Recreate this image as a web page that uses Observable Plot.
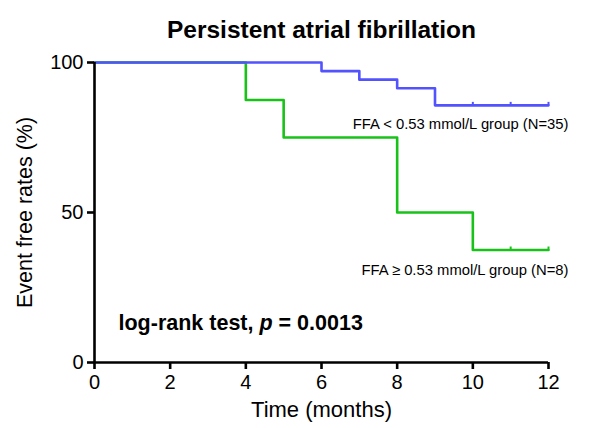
<!DOCTYPE html>
<html>
<head>
<meta charset="utf-8">
<script src="https://cdn.jsdelivr.net/npm/d3@7"></script>
<script src="https://cdn.jsdelivr.net/npm/@observablehq/plot@0.6"></script>
<style>
  html, body { margin: 0; padding: 0; background: #fff; }
  svg { font-family: "Liberation Sans", Arial, sans-serif; }
  #chart svg g[aria-label$="tick label"], #chart svg g[aria-label$="tick label"] text { font-size: 20px !important; fill: #000; }
</style>
</head>
<body>
<div id="chart"></div>
<script>
const lowTimes = [0, 6, 7, 8, 9, 12];
const lowSurv = [100, 97.14, 94.29, 91.43, 85.71, 85.71];
const lowCensor = [10, 11, 12];
const highTimes = [0, 4, 5, 8, 10, 12];
const highSurv = [100, 87.5, 75, 50, 37.5, 37.5];
const highCensor = [11, 12];
const xTicks = [0, 2, 4, 6, 8, 10, 12];
const yTicks = [0, 50, 100];
const lowLabel = "FFA < 0.53 mmol/L group (N=35)";
const highLabel = "FFA \u2265 0.53 mmol/L group (N=8)";
const titleText = "Persistent atrial fibrillation";
const xLabel = "Time (months)";
const yLabel = "Event free rates (%)";
const testLabel = ["log-rank test, ", "p", " = 0.0013"];
const lowColor = "#5252ff";
const highColor = "#19c219";

const low = lowTimes.map((t, i) => ({t, s: lowSurv[i]}));
const high = highTimes.map((t, i) => ({t, s: highSurv[i]}));
const survAt = (data, t) => { let v = data[0].s; for (const d of data) if (d.t <= t) v = d.s; return v; };
const lowC = lowCensor.map(t => ({t, s: survAt(low, t)}));
const highC = highCensor.map(t => ({t, s: survAt(high, t)}));

const chart = Plot.plot({
  width: 602,
  height: 428,
  marginTop: 62,
  marginBottom: 66,
  marginLeft: 94,
  marginRight: 54,
  style: {fontFamily: "'Liberation Sans', Arial, sans-serif", color: "#000", background: "#fff"},
  x: {domain: [0, 12]},
  y: {domain: [0, 100]},
  marks: [
    Plot.line(high, {x: "t", y: "s", curve: "step-after", stroke: highColor, strokeWidth: 2.6}),
    Plot.line(low, {x: "t", y: "s", curve: "step-after", stroke: lowColor, strokeWidth: 2.6}),
    Plot.ruleX(lowC, {x: "t", y1: "s", y2: d => d.s + 1, stroke: lowColor, strokeWidth: 2}),
    Plot.ruleX(highC, {x: "t", y1: "s", y2: d => d.s + 1, stroke: highColor, strokeWidth: 2}),
    Plot.ruleX([0], {stroke: "#000", strokeWidth: 2.6}),
    Plot.ruleY([0], {stroke: "#000", strokeWidth: 2.6}),
    Plot.axisX({ticks: xTicks, tickSize: 7, tickPadding: 5, strokeWidth: 2.6, label: null}),
    Plot.axisY({ticks: yTicks, tickSize: 7, tickPadding: 4, strokeWidth: 2.6, label: null}),
    Plot.text([xLabel], {frameAnchor: "bottom", dy: 54, text: d => d, fontSize: 22, textAnchor: "middle"}),
    Plot.text([yLabel], {frameAnchor: "left", dx: -69, rotate: -90, text: d => d, fontSize: 21.5, textAnchor: "middle"}),
    Plot.text([lowLabel], {x: 12, y: survAt(low, 12), text: d => d, textAnchor: "end", dx: 20, dy: 19, fontSize: 14.8}),
    Plot.text([highLabel], {x: 12, y: survAt(high, 12), text: d => d, textAnchor: "end", dx: 20, dy: 20.5, fontSize: 14.8}),
    Plot.text([testLabel.join("")], {x: 0, y: 13, dx: 24, text: d => d, textAnchor: "start", fontSize: 21.5, fontWeight: "bold", className: "logrank"}),
    Plot.text([titleText], {frameAnchor: "top", dy: -42, text: d => d, fontSize: 24.5, fontWeight: "bold"})
  ]
});

// italicise the p in the log-rank annotation
d3.select(chart).selectAll(".logrank text").each(function () {
  const el = d3.select(this);
  el.text(null);
  el.append("tspan").text(testLabel[0]);
  el.append("tspan").attr("font-style", "italic").text(testLabel[1]);
  el.append("tspan").text(testLabel[2]);
});

document.getElementById("chart").appendChild(chart);
</script>
</body>
</html>
